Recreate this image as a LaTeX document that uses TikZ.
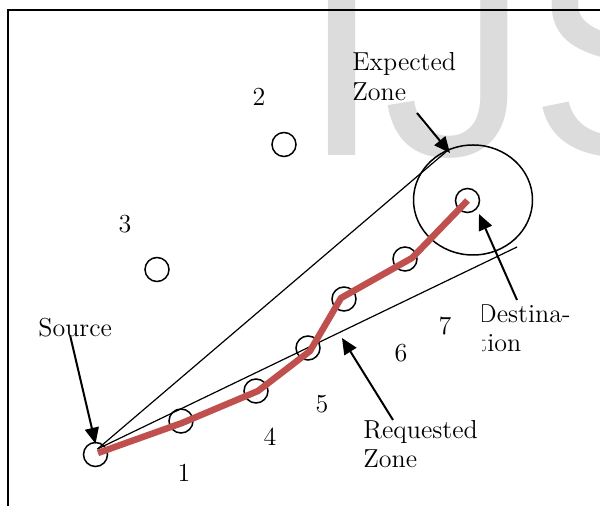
\documentclass[tikz,border=0pt]{standalone}
\usepackage{fontspec}
\newfontfamily\markfont{Liberation Sans}
\usetikzlibrary{arrows.meta}
\definecolor{routeRed}{RGB}{192, 80, 77}
\definecolor{markGray}{RGB}{220, 220, 220}
\tikzset{
  hop/.style={circle, draw, line width=0.75pt,
              minimum size=12pt, inner sep=0pt},
  zonelbl/.style={font=\fontsize{13pt}{14.75pt}\selectfont,
                  align=left, inner sep=0pt, anchor=base west},
  num/.style={font=\fontsize{13pt}{14.75pt}\selectfont, inner sep=0pt},
  pointer/.style={->, >={Triangle[length=8pt, width=7pt]}, line width=1pt},
  cone/.style={line width=0.6pt},
  route/.style={draw=routeRed, line width=3.25pt},
}

\begin{document}
\begin{tikzpicture}[x=0.5pt, y=-0.5pt]
    \clip (0,0) rectangle (600,506);

    % Background mark
    \node[anchor=base west, inner sep=0pt, text=markGray,
          font=\markfont\fontsize{146pt}{146pt}\selectfont] (mark) at (301.5,156) {IJS};

    % Frame
    \draw[line width=1.1pt] (8,560) |- (650,10);

    % Hops
    \node[hop] (src) at (95.5,454.5) {};
    \node[hop] (p1) at (181,421) {};
    \node[hop] (p2) at (256,391) {};
    \node[hop] (p3) at (308,348) {};
    \node[hop] (p4) at (344,299) {};
    \node[hop] (p5) at (405,259) {};
    \node[hop] (dst) at (467.5,200.5) {};
    \node[hop] (q2) at (284,144.5) {};
    \node[hop] (q3) at (157,269.5) {};

    % Expected zone and request cone
    \draw[line width=0.75pt] (473,200) ellipse [x radius=59.5, y radius=55];
    \coordinate (apex) at (97.5,449);
    \coordinate (zoneTop) at (447,151);
    \coordinate (reqEnd) at (517,247);
    \draw[cone] (apex) -- (zoneTop);
    \draw[cone] (apex) -- (reqEnd);

    % Route
    \draw[route] ([shift={(2.5,-1.5)}]src.center) -- ([shift={(1,2)}]p1.center)
        -- ([shift={(2,0)}]p2.center) -- ([shift={(2,3)}]p3.center)
        -- ([shift={(-3,-1)}]p4.center) -- ([shift={(7,-1)}]p5.center) -- (dst.center);

    % Numbers
    \node[num] (n1) at (184,473) {1};
    \node[num] (n2) at (259,97) {2};
    \node[num] (n3) at (125,224) {3};
    \node[num] (n4) at (270,437) {4};
    \node[num] (n5) at (322,404) {5};
    \node[num] (n6) at (401,353) {6};
    \node[num] (n7) at (445,326) {7};

    % Labels (base = last line)
    \node[zonelbl] (expLbl) at (352,100.5) {Expected\\Zone};
    \node[zonelbl] (srcLbl) at (38,337) {Source};
    \node[zonelbl] (reqLbl) at (363,468) {Requested\\Zone};
    \begin{scope}
      \clip (482,280) rectangle (600,370);
      \node[zonelbl] (dstLbl) at (477,352) {Destina-\\tion};
    \end{scope}

    % Pointers
    \coordinate (expTail) at (417,113);
    \coordinate (expTip) at (450,153);
    \coordinate (srcTail) at (70,335);
    \coordinate (reqTail) at (393,420);
    \coordinate (reqTip) at (342,338);
    \coordinate (dstTail) at (517,300);
    \coordinate (dstTip) at (479,214);
    \draw[pointer] (expTail) -- (expTip);
    \draw[pointer] (srcTail) -- ([yshift=-1pt]src.north);
    \draw[pointer] (reqTail) -- (reqTip);
    \draw[pointer] (dstTail) -- (dstTip);
\end{tikzpicture}
\end{document}
